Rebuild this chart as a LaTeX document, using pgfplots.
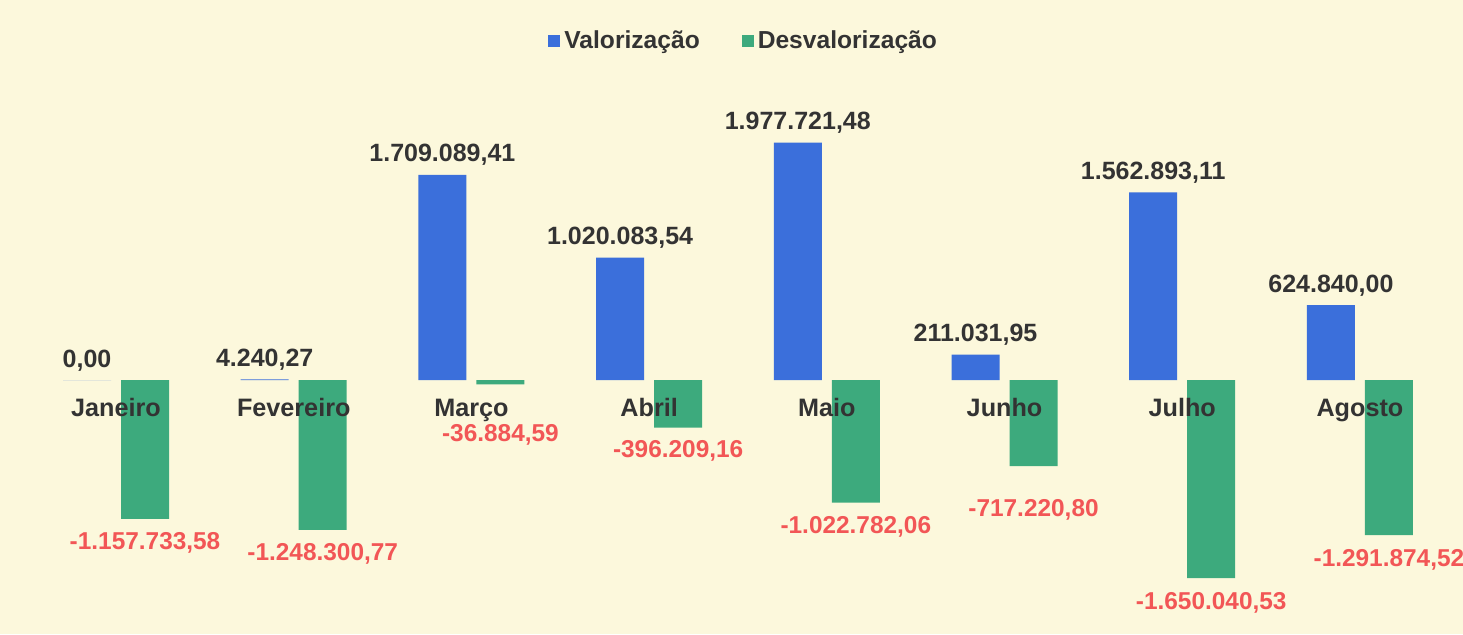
\documentclass[border=0pt]{standalone}
\usepackage{fontspec}
\setmainfont{Liberation Sans}
\usepackage{pgfplots}
\pgfplotsset{compat=1.18}
\usepackage{pgfplotstable}
\definecolor{bg}{HTML}{FCF8DC}
\definecolor{vblue}{HTML}{3B6FDB}
\definecolor{dgreen}{HTML}{3DAA7D}
\definecolor{lred}{HTML}{F25656}
\definecolor{txt}{HTML}{333333}

\pgfplotstableread{
x y lbl
0 0 0,00
1 4240.27 4.240,27
2 1709089.41 1.709.089,41
3 1020083.54 1.020.083,54
4 1977721.48 1.977.721,48
5 211031.95 211.031,95
6 1562893.11 1.562.893,11
7 624840.00 624.840,00
}\valtab

\pgfplotstableread{
x y lbl dy
0 -1157733.58 -1.157.733,58 -15.5
1 -1248300.77 -1.248.300,77 -15.5
2 -36884.59 -36.884,59 -28.5
3 -396209.16 -396.209,16 -15
4 -1022782.06 -1.022.782,06 -15.5
5 -717220.80 -717.220,80 -25
6 -1650040.53 -1.650.040,53 -15.5
7 -1291874.52 -1.291.874,52 -15.5
}\desvtab

\pgfplotstableread{
x y lbl
0 0 Janeiro
1 0 Fevereiro
2 0 Março
3 0 Abril
4 0 Maio
5 0 Junho
6 0 Julho
7 0 Agosto
}\cattab

\begin{document}
\begin{tikzpicture}
\fill[bg] (0,0) rectangle (731.5pt,317pt);
\begin{axis}[
  at={(0,0)}, anchor=south west,
  scale only axis, width=731.5pt, height=317pt,
  hide axis, clip=false,
  xmin=-0.653, xmax=7.58,
  ymin=-2116667, ymax=3166667,
  ybar, bar width=24pt,
  legend columns=2,
  legend image code/.code={\fill[#1] (0pt,-3pt) rectangle (6pt,3pt);},
  legend style={draw=none, fill=none, at={(0.509,0.935)}, anchor=center,
    font=\fontsize{12.3}{14}\selectfont\bfseries, text=txt,
    /tikz/every even column/.append style={column sep=19pt}},
]
\addplot[fill=vblue, draw=none, bar shift=-14.5pt,
  nodes near coords, point meta=explicit symbolic,
  every node near coord/.append style={anchor=base, yshift=6.5pt, text=txt,
    font=\fontsize{12.5}{14}\selectfont\bfseries, inner sep=0pt}]
  table[x=x, y=y, meta=lbl]{\valtab};
\addlegendentry{Valorização}
\addplot[fill=dgreen, draw=none, bar shift=14.5pt,
  nodes near coords, point meta=explicit symbolic,
  visualization depends on={\thisrow{dy} \as \dy},
  every node near coord/.append style={anchor=base, yshift=\dy, text=lred,
    font=\fontsize{12.2}{14}\selectfont\bfseries, inner sep=0pt}]
  table[x=x, y=y, meta=lbl]{\desvtab};
\addlegendentry{Desvalorização}
\addplot[draw=none, fill=none, bar shift=0pt, forget plot,
  nodes near coords, point meta=explicit symbolic,
  every node near coord/.append style={anchor=base, yshift=-18pt, text=txt,
    font=\fontsize{12.6}{14}\selectfont\bfseries, inner sep=0pt}]
  table[x=x, y=y, meta=lbl]{\cattab};
\end{axis}
\pgfresetboundingbox
\useasboundingbox (0,0) rectangle (731.5pt,317pt);
\end{tikzpicture}
\end{document}
